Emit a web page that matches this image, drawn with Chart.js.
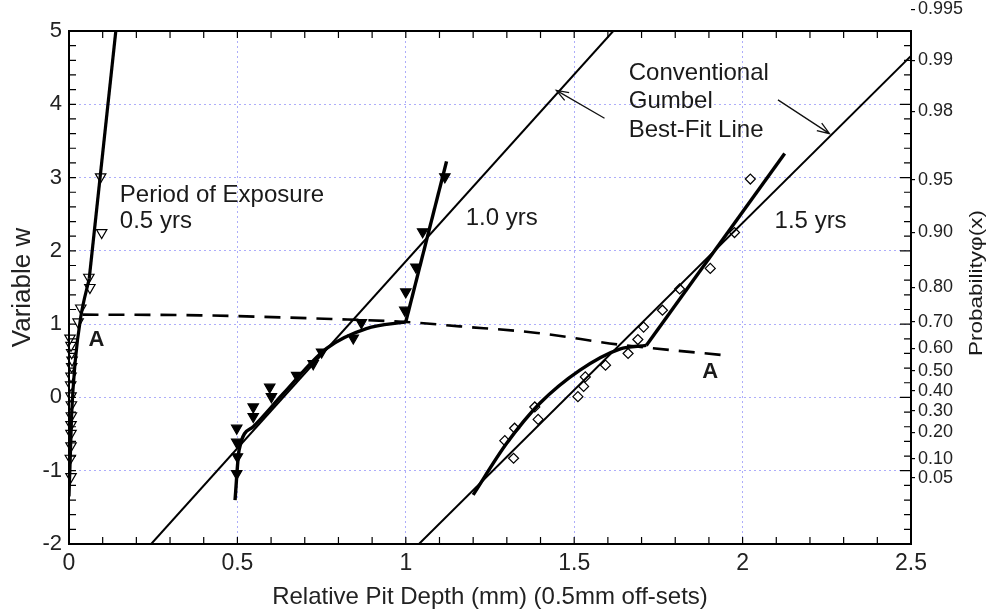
<!DOCTYPE html>
<html>
<head>
<meta charset="utf-8">
<script src="https://cdn.jsdelivr.net/npm/chart.js@4.4.1/dist/chart.umd.min.js"></script>
<style>
  html, body { margin: 0; padding: 0; background: #fff; }
</style>
</head>
<body>
<canvas id="gumbel" width="987" height="615"></canvas>
<script>
// Gumbel plot of relative pit depth, three exposure periods (0.5 mm off-sets)

// 0.5 yrs - open triangles
var depth05 = [0.006, 0.004, 0.006, 0.006, 0.006, 0.007, 0.007, 0.006, 0.005, 0.006, 0.008, 0.009, 0.008, 0.006, 0.003, 0.027, 0.035, 0.062, 0.059, 0.097, 0.094];
var w05     = [-1.08, -0.83, -0.66, -0.49, -0.37, -0.25, -0.10, 0.02, 0.17, 0.29, 0.42, 0.51, 0.61, 0.71, 0.81, 1.03, 1.22, 1.50, 1.64, 2.25, 3.01];

// 1.0 yrs - filled triangles
var depth10 = [0.498, 0.500, 0.498, 0.498, 0.547, 0.547, 0.601, 0.596, 0.676, 0.725, 0.750, 0.844, 0.868, 0.997, 1.000, 1.030, 1.050, 1.116];
var w10     = [-1.04, -0.81, -0.61, -0.42, -0.26, -0.13, 0.01, 0.14, 0.30, 0.46, 0.62, 0.81, 1.02, 1.19, 1.44, 1.78, 2.26, 3.01];

// 1.5 yrs - open diamonds
var depth15 = [1.320, 1.294, 1.323, 1.393, 1.383, 1.511, 1.528, 1.533, 1.593, 1.660, 1.689, 1.706, 1.762, 1.813, 1.904, 1.976, 2.023];
var w15     = [-0.83, -0.59, -0.42, -0.30, -0.13, 0.01, 0.15, 0.28, 0.44, 0.60, 0.79, 0.96, 1.19, 1.48, 1.76, 2.25, 2.98];

// fitted curves (lower part) and steep upper branches
var curve05X = [0.0, 0.004, 0.008, 0.018, 0.035, 0.060];
var curve05W = [-1.35, -0.80, -0.22, 0.47, 1.10, 1.62];
var steep05X = [0.060, 0.139];
var steep05W = [1.62, 5.0];

var curve10X = [0.493, 0.505, 0.547, 0.636, 0.765, 0.883, 1.0];
var curve10W = [-1.40, -0.72, -0.40, 0.05, 0.67, 0.94, 1.03];
var steep10X = [1.0, 1.121];
var steep10W = [1.03, 3.22];

var curve15X = [1.200, 1.299, 1.398, 1.516, 1.635, 1.714];
var curve15W = [-1.33, -0.63, -0.08, 0.37, 0.66, 0.71];
var steep15X = [1.714, 2.125];
var steep15W = [0.71, 3.33];

// conventional Gumbel best-fit lines
var gumbel10X = [0.244, 1.616];
var gumbel10W = [-2.0, 5.0];
var gumbel15X = [1.039, 2.5];
var gumbel15W = [-2.0, 4.66];

// dashed line A-A through the break points
var lineAX = [0.04, 0.39, 0.78, 1.0, 1.16, 1.39, 1.635, 1.937];
var lineAW = [1.13, 1.12, 1.07, 1.03, 0.97, 0.88, 0.72, 0.58];

// axis ticks
var depthTicks = [0, 0.5, 1, 1.5, 2, 2.5];
var wTicks = [-2, -1, 0, 1, 2, 3, 4, 5];
var probLabels = ['0.05', '0.10', '0.20', '0.30', '0.40', '0.50', '0.60', '0.70', '0.80', '0.90', '0.95', '0.98', '0.99', '0.995'];

function gumbelW(p) { return -Math.log(-Math.log(p)); }

function pts(xs, ys) {
  return xs.map(function (x, i) { return { x: x, y: ys[i] }; });
}

function lineSet(xs, ys, width, extra) {
  return Object.assign({
    data: pts(xs, ys),
    showLine: true,
    borderColor: '#000',
    backgroundColor: '#000',
    borderWidth: width,
    pointRadius: 0,
    fill: false
  }, extra || {});
}

function markerSet(xs, ys, style) {
  return Object.assign({
    data: pts(xs, ys),
    showLine: false,
    borderColor: '#000',
    borderWidth: 1.2,
    clip: false
  }, style);
}

var FONT = "'Liberation Sans', Arial, Helvetica, sans-serif";
var smooth = { tension: 0.4, cubicInterpolationMode: 'monotone' };

// frame, inward ticks, labels, arrows
var decorations = {
  id: 'decorations',
  afterDatasetsDraw: function (chart) {
    var c = chart.ctx, a = chart.chartArea;
    var xs = chart.scales.x, ys = chart.scales.y;
    c.save();
    c.strokeStyle = '#000';
    c.lineWidth = 1.2;
    c.beginPath();
    for (var i = 0; i <= 25; i++) {
      var px = xs.getPixelForValue(i / 10);
      c.moveTo(px, a.bottom); c.lineTo(px, a.bottom - 7);
      c.moveTo(px, a.top); c.lineTo(px, a.top + 7);
    }
    for (var j = 0; j <= 35; j++) {
      var v = -2 + j * 0.2;
      var py = ys.getPixelForValue(v);
      var len = Math.abs(v - Math.round(v)) < 1e-6 ? 11 : 7;
      c.moveTo(a.left, py); c.lineTo(a.left + 7, py);
      c.moveTo(a.right, py); c.lineTo(a.right - len, py);
    }
    c.stroke();

    c.lineWidth = 2;
    c.strokeRect(a.left, a.top, a.right - a.left, a.bottom - a.top);

    // text inside the plot
    function text(str, x, w, font, align) {
      c.font = font;
      c.fillStyle = '#1a1a1a';
      c.textAlign = align || 'left';
      c.textBaseline = 'middle';
      c.fillText(str, xs.getPixelForValue(x), ys.getPixelForValue(w));
    }
    var f = '24px ' + FONT;
    text('Period of Exposure', 0.151, 2.76, f);
    text('0.5 yrs', 0.151, 2.40, f);
    text('1.0 yrs', 1.178, 2.45, f);
    text('1.5 yrs', 2.095, 2.40, f);
    text('Conventional', 1.662, 4.42, f);
    text('Gumbel', 1.662, 4.04, f);
    text('Best-Fit Line', 1.662, 3.65, f);
    text('A', 0.058, 0.78, 'bold 22px ' + FONT, 'left');
    text('A', 1.880, 0.35, 'bold 22px ' + FONT, 'left');

    // arrows to the best-fit lines
    function arrow(x0, w0, x1, w1) {
      var ax = xs.getPixelForValue(x0), ay = ys.getPixelForValue(w0);
      var bx = xs.getPixelForValue(x1), by = ys.getPixelForValue(w1);
      var ang = Math.atan2(by - ay, bx - ax);
      c.strokeStyle = '#111';
      c.lineWidth = 1.3;
      c.beginPath();
      c.moveTo(ax, ay); c.lineTo(bx, by);
      c.moveTo(bx - 13 * Math.cos(ang - 0.35), by - 13 * Math.sin(ang - 0.35));
      c.lineTo(bx, by);
      c.lineTo(bx - 13 * Math.cos(ang + 0.35), by - 13 * Math.sin(ang + 0.35));
      c.stroke();
    }
    arrow(1.59, 3.81, 1.447, 4.19);
    arrow(2.105, 4.06, 2.258, 3.60);

    // right axis title, reading upwards
    c.save();
    c.translate(977, 283);
    c.rotate(-Math.PI / 2);
    c.scale(1.25, 1);
    c.font = '18px ' + FONT;
    c.fillStyle = '#1a1a1a';
    c.textAlign = 'center';
    c.textBaseline = 'middle';
    c.fillText('Probability\u03c6(x)', 0, 0);
    c.restore();

    c.restore();
  }
};

var gridColor = function (ctx) {
  var s = ctx.scale;
  if (ctx.tick && (ctx.tick.value === s.min || ctx.tick.value === s.max)) return 'rgba(0,0,0,0)';
  return 'rgba(105, 105, 245, 0.55)';
};

var ctx = document.getElementById('gumbel').getContext('2d');
var chart = new Chart(ctx, {
  type: 'scatter',
  data: {
    datasets: [
      lineSet(lineAX, lineAW, 2.6, { borderDash: [16, 10], tension: 0.3, cubicInterpolationMode: 'monotone' }),
      lineSet(curve05X, curve05W, 3.2, smooth),
      lineSet(steep05X, steep05W, 3.2),
      lineSet(curve10X, curve10W, 3.4, smooth),
      lineSet(steep10X, steep10W, 3.4),
      lineSet(curve15X, curve15W, 3.4, smooth),
      lineSet(steep15X, steep15W, 3.4),
      lineSet(gumbel10X, gumbel10W, 2),
      lineSet(gumbel15X, gumbel15W, 2),
      markerSet(depth05, w05, { pointStyle: 'triangle', rotation: 180, pointRadius: 6, backgroundColor: '#fff' }),
      markerSet(depth10, w10, { pointStyle: 'triangle', rotation: 180, pointRadius: 6, backgroundColor: '#000' }),
      markerSet(depth15, w15, { pointStyle: 'rectRot', pointRadius: 5, backgroundColor: '#fff' })
    ]
  },
  options: {
    responsive: false,
    animation: false,
    devicePixelRatio: 1,
    layout: { padding: { top: 31, left: 0, right: 0, bottom: 0 } },
    plugins: { legend: { display: false }, tooltip: { enabled: false } },
    scales: {
      x: {
        type: 'linear',
        min: 0,
        max: 2.5,
        afterBuildTicks: function (axis) {
          axis.ticks = depthTicks.map(function (v) { return { value: v }; });
        },
        afterFit: function (scale) { scale.height = 71; },
        ticks: {
          font: { family: FONT, size: 23 },
          color: '#222',
          padding: 6,
          maxRotation: 0,
          callback: function (v) { return String(v); }
        },
        grid: { color: gridColor, drawTicks: false, lineWidth: 1 },
        border: { display: false, dash: [2, 3] },
        title: {
          display: true,
          text: 'Relative Pit Depth (mm) (0.5mm off-sets)',
          font: { family: FONT, size: 24 },
          color: '#222',
          padding: { top: 0, bottom: 3 }
        }
      },
      y: {
        type: 'linear',
        position: 'left',
        min: -2,
        max: 5,
        afterBuildTicks: function (axis) {
          axis.ticks = wTicks.map(function (v) { return { value: v }; });
        },
        afterFit: function (scale) { scale.width = 69; },
        ticks: {
          font: { family: FONT, size: 22 },
          color: '#222',
          padding: 7,
          callback: function (v) { return String(v); }
        },
        grid: { color: gridColor, drawTicks: false, lineWidth: 1 },
        border: { display: false, dash: [2, 3] },
        title: {
          display: true,
          text: 'Variable w',
          font: { family: FONT, size: 26 },
          color: '#222',
          padding: { top: 7, bottom: 0 }
        }
      },
      y2: {
        type: 'linear',
        position: 'right',
        min: -2,
        max: 5,
        afterBuildTicks: function (axis) {
          axis.ticks = probLabels.map(function (p) { return { value: gumbelW(parseFloat(p)) }; });
        },
        afterFit: function (scale) { scale.width = 76; },
        ticks: {
          autoSkip: false,
          font: { family: FONT, size: 18 },
          color: '#222',
          padding: 3,
          callback: function (v, i) { return probLabels[i]; }
        },
        grid: { drawOnChartArea: false, drawTicks: true, tickLength: 4, color: '#000', lineWidth: 1.2 },
        border: { display: false }
      }
    }
  },
  plugins: [decorations]
});
</script>
</body>
</html>
